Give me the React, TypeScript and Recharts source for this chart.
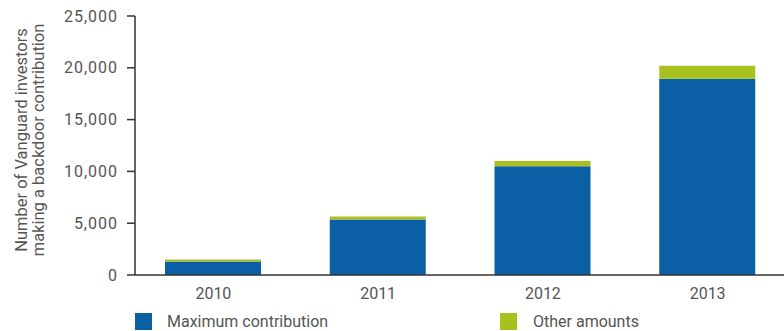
import React from "react";
import { BarChart, Bar, XAxis, YAxis } from "recharts";

// values
const years = ["2010", "2011", "2012", "2013"];
const maximumContribution = [1300, 5350, 10500, 18950];
const otherAmounts = [200, 300, 500, 1250];
const yTicks = [0, 5000, 10000, 15000, 20000, 25000];

const BLUE = "#0b5fa4";
const GREEN = "#a9c11f";
const TEXT = "#555";
const AXIS = "#333";

const data = years.map((year, i) => ({
  year,
  max: maximumContribution[i],
  other: otherAmounts[i],
}));

function YLabel() {
  const cy = 140;
  return (
    <text
      transform={`rotate(-90, 30, ${cy})`}
      x={30}
      y={cy}
      textAnchor="middle"
      fill={TEXT}
      fontSize={16.5}
      fontFamily="Roboto"
    >
      <tspan x={30} dy={-3}>Number of Vanguard investors</tspan>
      <tspan x={30} dy={17}>making a backdoor contribution</tspan>
    </text>
  );
}

const legendRow: React.CSSProperties = {
  position: "absolute",
  top: 313,
  height: 17,
  display: "flex",
  alignItems: "center",
  fontSize: 16,
  lineHeight: "17px",
  color: TEXT,
};

export default function App() {
  return (
    <div
      style={{
        position: "absolute",
        left: 0,
        top: 0,
        width: 784,
        height: 331,
        overflow: "hidden",
        background: "#fff",
        fontFamily: "Roboto",
      }}
    >
      <BarChart
        width={794}
        height={331}
        data={data}
        margin={{ top: 16, right: 0, bottom: 0, left: 0 }}
        barSize={96}
      >
        <XAxis
          dataKey="year"
          height={56}
          tickSize={0}
          tickMargin={13}
          padding={{ left: -4, right: 4 }}
          axisLine={{ stroke: AXIS, strokeWidth: 1.5 }}
          tick={{ fontSize: 16, fill: TEXT, fontFamily: "Roboto" }}
        />
        <YAxis
          width={135}
          domain={[0, 25000]}
          ticks={yTicks}
          tickSize={8}
          tickMargin={9}
          interval={0}
          axisLine={{ stroke: AXIS, strokeWidth: 1.5 }}
          tickLine={{ stroke: AXIS, strokeWidth: 1.5 }}
          tickFormatter={(v: number) => v.toLocaleString("en-US")}
          tick={{ fontSize: 16, fill: TEXT, fontFamily: "Roboto", letterSpacing: 1 }}
          label={<YLabel />}
        />
        <Bar dataKey="max" stackId="a" fill={BLUE} isAnimationActive={false} />
        <Bar dataKey="other" stackId="a" fill={GREEN} isAnimationActive={false} />
      </BarChart>
      <div style={{ ...legendRow, left: 135 }}>
        <span style={{ width: 17, height: 17, background: BLUE, marginRight: 15 }} />
        <span>Maximum contribution</span>
      </div>
      <div style={{ ...legendRow, left: 500 }}>
        <span style={{ width: 17, height: 17, background: GREEN, marginRight: 16 }} />
        <span>Other amounts</span>
      </div>
    </div>
  );
}
